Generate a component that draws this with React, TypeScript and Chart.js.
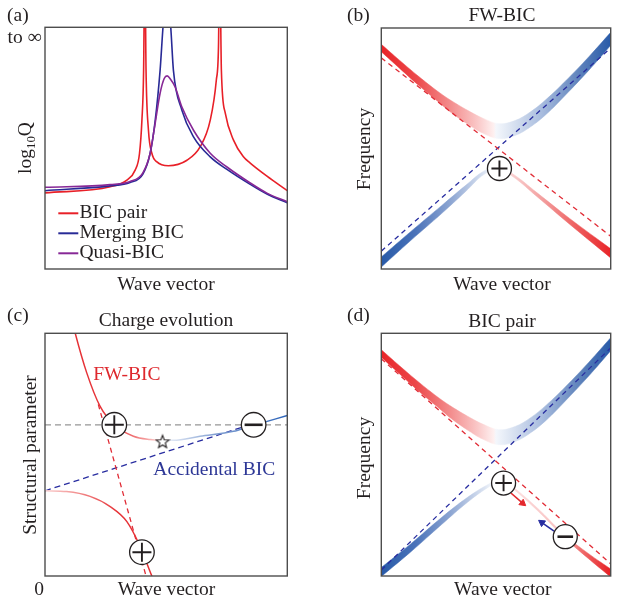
import React, { useEffect, useRef } from "react";
import { Chart, registerables } from "chart.js";

Chart.register(...registerables);

type Pt = [number, number];

// ---------------- Panel (a): log10 Q vs wave vector ----------------
const legendLabels = ["BIC pair", "Merging BIC", "Quasi-BIC"];
const bicPairQ: Pt[] = [
  [0, 31.5], [26.9, 34.0], [33.8, 36.8], [37.2, 40.9], [39.0, 47.8], [40.0, 61.6], [40.7, 82.2],
  [41.2, 130], [41.7, 82.2], [42.7, 57.4], [44.1, 47.9], [46.2, 44.3], [50.9, 42.7], [58.6, 45.0],
  [64.0, 50.5], [68.2, 61.6], [70.7, 78.1], [71.6, 92], [72.1, 130], [72.8, 82], [74.4, 64.5],
  [77.8, 53.3], [81.9, 46.4], [84.7, 43.8], [91.6, 38.4], [100, 32.4],
];
const mergingBicQ: Pt[] = [
  [0, 32.4], [26.9, 34.4], [35.1, 35.8], [40.4, 39.3], [43.4, 47.9], [45.5, 61.6], [47.5, 82.2],
  [48.7, 100], [50.3, 118], [51.9, 100], [53.0, 82.2], [56.5, 65.7], [61.3, 54.7], [68.2, 46.4],
  [75.1, 41.2], [84.7, 35.0], [91.6, 31.0], [100, 27.4],
];
const quasiBicQ: Pt[] = [
  [0, 33.8], [26.9, 34.9], [35.1, 36.2], [40.4, 39.8], [43.4, 47.9], [45.5, 60.5], [47.5, 72.7],
  [49.2, 78.8], [50.4, 79.9], [51.8, 78.5], [53.7, 75.3], [56.5, 67.0], [61.3, 57.4], [68.2, 47.9],
  [75.1, 42.2], [84.7, 35.6], [91.6, 31.4], [100, 27.8],
];

// ---------------- Panels (b) and (d): frequency bands ----------------
const upperBandX = [0, 7.9, 16.1, 24.4, 30.6, 38.8, 44.2, 51.2, 58.3, 64.9, 71.9, 80.2, 90.5, 100];
const upperBandTop = [93.25, 86.65, 80.05, 73.85, 69.8, 65.2, 62.6, 60.3, 61.6, 65.1, 70.4, 77.9, 88.1, 98.2];
const upperBandBottom = [90.15, 83.35, 76.35, 69.75, 64.8, 59.4, 56.4, 54.1, 55.4, 58.9, 64.2, 72.1, 82.5, 92.8];

const lowerBandXB = [0, 12.8, 26.4, 36.8, 45.0, 51.2, 57.4, 67.8, 82.2, 100];
const lowerBandTopB = [5.0, 15.5, 26.4, 34.7, 40.8, 42.3, 39.4, 31.7, 20.9, 8.4];
const lowerBandBottomB = [0.8, 11.8, 23.1, 32.2, 39.4, 41.2, 38.3, 30.1, 18.5, 4.6];

const lowerBandXD = [0, 12.8, 26.4, 37.6, 46.7, 52.5, 57.4, 67.8, 80.2, 90.5, 100];
const lowerBandTopD = [3.5, 13.2, 24.2, 32.4, 37.8, 40.2, 36.8, 28.2, 16.7, 9.1, 2.9];
const lowerBandBottomD = [-0.2, 9.9, 21.3, 30.4, 36.6, 39.1, 36.0, 27.2, 15.5, 7.0, -0.4];

const redAsymB: Pt[] = [[0, 87.6], [100, 13.6]];
const blueAsymB: Pt[] = [[0, 7.4], [100, 91.7]];
const chargePlusB: Pt[] = [[51.5, 41.7]];

const redAsymD: Pt[] = [[0, 89.5], [100, 5.0]];
const blueAsymD: Pt[] = [[0, 2.5], [100, 94.0]];
const chargePlusD: Pt[] = [[53.3, 38.3]];
const chargeMinusD: Pt[] = [[80.2, 16.2]];
const arrowRedD: Pt[] = [[56.5, 34.2], [61.6, 30.0]];
const arrowBlueD: Pt[] = [[75.3, 18.5], [70.0, 22.0]];

// ---------------- Panel (c): charge evolution ----------------
const fwBicCurve: Pt[] = [
  [11.5, 104], [12.4, 100.3], [17.2, 83.8], [22.7, 70.0], [28.9, 62.0], [36.5, 57.6], [43.4, 56.2],
  [47.5, 55.9], [53.0, 55.9], [64.0, 57.6], [77.8, 59.6], [84.7, 61.7], [100, 66.1],
];
const lowerFwCurve: Pt[] = [
  [0, 35.1], [8.9, 34.8], [18.6, 32.8], [26.9, 28.6], [33.8, 22.4], [39.3, 12.1], [44.1, 0], [45, -2],
];
const redDashC: Pt[] = [[22.0, 70.7], [41.7, 0]];
const accidentalDashC: Pt[] = [[0, 35.1], [82.0, 61.5]];
const levelC: Pt[] = [[0, 62.3], [100, 62.3]];
const chargePlusC: Pt[] = [[28.6, 62.3], [40.0, 9.8]];
const chargeMinusC: Pt[] = [[86.1, 62.3]];
const starC: Pt[] = [[48.5, 55.5]];

// ---------------- helpers ----------------
const SERIF = '"Liberation Serif", "DejaVu Serif", serif';
const TXT = "#231f20";
const RED = "rgb(232,32,40)";
const RED_D = "rgb(225,45,55)";
const BLUE_D = "rgb(40,45,160)";

const xy = (a: Pt[]) => a.map(([x, y]) => ({ x, y }));
const zip = (xs: number[], ys: number[]) => xs.map((x, i) => ({ x, y: ys[i] }));

function gradient(stops: [number, string][]) {
  return (c: any) => {
    const ch = c.chart;
    const a = ch.chartArea;
    if (!a) return "rgba(0,0,0,0)";
    const g = ch.ctx.createLinearGradient(a.left, 0, a.right, 0);
    stops.forEach(([o, col]) => g.addColorStop(o, col));
    return g;
  };
}

const upperStops: [number, string][] = [
  [0, "rgb(232,36,40)"], [0.15, "rgb(236,72,74)"], [0.3, "rgb(243,140,140)"], [0.42, "rgb(250,200,200)"],
  [0.49, "rgb(254,240,240)"], [0.5, "rgb(244,247,252)"], [0.56, "rgb(222,230,243)"], [0.7, "rgb(168,188,222)"],
  [0.85, "rgb(100,135,190)"], [1, "rgb(40,90,168)"],
];
const lowerStopsB: [number, string][] = [
  [0, "rgb(40,90,168)"], [0.15, "rgb(75,115,185)"], [0.3, "rgb(140,165,210)"], [0.45, "rgb(220,228,242)"],
  [0.5, "rgb(255,255,255)"], [0.55, "rgb(250,215,215)"], [0.7, "rgb(243,160,160)"], [0.85, "rgb(238,95,95)"],
  [1, "rgb(232,36,40)"],
];
const lowerStopsD: [number, string][] = [
  [0, "rgb(40,90,168)"], [0.15, "rgb(75,115,185)"], [0.3, "rgb(140,165,210)"], [0.45, "rgb(220,228,242)"],
  [0.5, "rgb(255,255,255)"], [0.55, "rgb(252,225,225)"], [0.78, "rgb(248,192,192)"], [0.87, "rgb(240,110,110)"],
  [1, "rgb(230,30,35)"],
];
const fwStops: [number, string][] = [
  [0, "rgb(228,40,45)"], [0.3, "rgb(232,60,65)"], [0.42, "rgb(245,160,160)"], [0.48, "rgb(252,225,225)"],
  [0.52, "rgb(225,232,245)"], [0.7, "rgb(130,160,210)"], [1, "rgb(45,100,185)"],
];
const lowerFwStops: [number, string][] = [
  [0, "rgb(250,210,210)"], [0.12, "rgb(243,150,150)"], [0.3, "rgb(230,50,55)"], [1, "rgb(230,40,45)"],
];

type Txt = {
  t?: string;
  parts?: [string, boolean][];
  x: number;
  y: number;
  color?: string;
  align?: CanvasTextAlign;
  rot?: boolean;
  size?: number;
};
type Leg = { x0: number; x1: number; y: number; dy: number; tx: number };

function drawText(ctx: CanvasRenderingContext2D, s: Txt) {
  const size = s.size ?? 19.5;
  ctx.save();
  ctx.fillStyle = s.color ?? TXT;
  ctx.textBaseline = "alphabetic";
  ctx.translate(s.x, s.y);
  if (s.rot) ctx.rotate(-Math.PI / 2);
  if (s.parts) {
    const subSize = size * 0.66;
    let total = 0;
    s.parts.forEach(([t, sub]) => {
      ctx.font = `${sub ? subSize : size}px ${SERIF}`;
      total += ctx.measureText(t).width;
    });
    let x = -total / 2;
    ctx.textAlign = "left";
    s.parts.forEach(([t, sub]) => {
      ctx.font = `${sub ? subSize : size}px ${SERIF}`;
      ctx.fillText(t, x, sub ? 4 : 0);
      x += ctx.measureText(t).width;
    });
  } else {
    ctx.font = `${size}px ${SERIF}`;
    ctx.textAlign = s.rot ? "center" : s.align ?? "left";
    ctx.fillText(s.t ?? "", 0, 0);
  }
  ctx.restore();
}

function overlay(texts: Txt[], legend?: Leg) {
  return {
    id: "overlay",
    afterDatasetsDraw(chart: any) {
      const { ctx, chartArea: a } = chart;
      ctx.save();
      ctx.strokeStyle = "#4d4d4d";
      ctx.lineWidth = 1.4;
      ctx.strokeRect(a.left, a.top, a.right - a.left, a.bottom - a.top);
      ctx.restore();
    },
    afterDraw(chart: any) {
      const ctx = chart.ctx as CanvasRenderingContext2D;
      if (legend) {
        let k = 0;
        chart.data.datasets.forEach((ds: any) => {
          if (!ds.label) return;
          const y = legend.y + k * legend.dy;
          ctx.save();
          ctx.strokeStyle = ds.borderColor;
          ctx.lineWidth = 2;
          ctx.beginPath();
          ctx.moveTo(legend.x0, y);
          ctx.lineTo(legend.x1, y);
          ctx.stroke();
          ctx.restore();
          drawText(ctx, { t: ds.label, x: legend.tx, y: y + 4.8 });
          k++;
        });
      }
      texts.forEach((s) => drawText(ctx, s));
    },
  };
}

function baseOptions(pad: { left: number; top: number; right: number; bottom: number }) {
  return {
    responsive: false,
    animation: false as const,
    events: [] as any[],
    layout: { padding: pad },
    plugins: { legend: { display: false }, tooltip: { enabled: false } },
    scales: {
      x: { type: "linear" as const, min: 0, max: 100, display: false },
      y: { type: "linear" as const, min: 0, max: 100, display: false },
    },
    elements: { point: { radius: 0 }, line: { tension: 0 } },
  };
}

function curve(data: any[], color: any, width: number, order: number, extra: any = {}) {
  return {
    data,
    borderColor: color,
    backgroundColor: color,
    borderWidth: width,
    pointRadius: 0,
    fill: false,
    clip: 0,
    cubicInterpolationMode: "monotone",
    order,
    ...extra,
  };
}

function dashed(data: Pt[], color: string, dash: number[], order: number, width = 1.3) {
  return curve(xy(data), color, width, order, { borderDash: dash, cubicInterpolationMode: "default" });
}

function band(xs: number[], top: number[], bottom: number[], stops: [number, string][], order: number) {
  const g = gradient(stops);
  const smooth = { cubicInterpolationMode: "default", tension: 0.4 };
  return [
    curve(zip(xs, top), g, 0.5, order, smooth),
    { ...curve(zip(xs, bottom), g, 0.5, order, smooth), fill: "-1", backgroundColor: g },
  ];
}

function markers(data: Pt[], style: any, radius: number, border: number, order: number, extra: any = {}) {
  return {
    data: xy(data),
    showLine: false,
    pointStyle: style,
    pointRadius: radius,
    pointBorderWidth: border,
    pointBorderColor: "#231f20",
    pointBackgroundColor: "#ffffff",
    clip: false,
    order,
    ...extra,
  };
}

function chargeCircles(plus: Pt[], minus: Pt[], r: number, arm: number) {
  const out: any[] = [];
  if (plus.length) {
    out.push(markers(plus, "cross", arm, 1.9, 0));
    out.push(markers(plus, "circle", r, 1.3, 1));
  }
  if (minus.length) {
    out.push(markers(minus, "line", arm - 0.5, 2.6, 0));
    out.push(markers(minus, "circle", r, 1.3, 1));
  }
  return out;
}

function arrow(data: Pt[], color: string, rotation: number) {
  return {
    data: xy(data),
    borderColor: color,
    borderWidth: 1.6,
    pointRadius: [0, 4],
    pointStyle: "triangle",
    pointRotation: rotation,
    pointBackgroundColor: color,
    pointBorderColor: color,
    pointBorderWidth: 1,
    clip: false,
    order: 2,
  };
}

function starCanvas() {
  const c = document.createElement("canvas");
  c.width = 16;
  c.height = 16;
  const g = c.getContext("2d") as CanvasRenderingContext2D;
  g.beginPath();
  for (let i = 0; i < 10; i++) {
    const r = i % 2 === 0 ? 6.8 : 2.9;
    const a = -Math.PI / 2 + (i * Math.PI) / 5;
    g.lineTo(8 + r * Math.cos(a), 8.8 + r * Math.sin(a));
  }
  g.closePath();
  g.fillStyle = "#fff";
  g.fill();
  g.strokeStyle = "#231f20";
  g.lineWidth = 1.1;
  g.stroke();
  return c;
}

// ---------------- charts ----------------
function chartA(cv: HTMLCanvasElement) {
  const colors = [RED, "rgb(40,42,150)", "rgb(135,40,150)"];
  const series = [bicPairQ, mergingBicQ, quasiBicQ];
  return new Chart(cv, {
    type: "line",
    data: {
      datasets: series.map((s, i) => ({
        ...curve(xy(s), colors[i], 1.6, 3 - i),
        label: legendLabels[i],
      })) as any,
    },
    options: baseOptions({ left: 45, top: 27.3, right: 336.7, bottom: 335 }) as any,
    plugins: [
      overlay(
        [
          { t: "(a)", x: 7, y: 20.5 },
          { t: "to \u221e", x: 7.5, y: 43 },
          { parts: [["log", false], ["10", true], ["Q", false]], x: 30.5, y: 148, rot: true },
          { t: "Wave vector", x: 166, y: 290, align: "center" },
        ],
        { x0: 58.3, x1: 78.3, y: 213.3, dy: 20, tx: 79.5 }
      ),
    ],
  });
}

function chartB(cv: HTMLCanvasElement) {
  return new Chart(cv, {
    type: "line",
    data: {
      datasets: [
        ...chargeCircles(chargePlusB, [], 12, 8),
        ...band(upperBandX, upperBandTop, upperBandBottom, upperStops, 5),
        ...band(lowerBandXB, lowerBandTopB, lowerBandBottomB, lowerStopsB, 5),
        dashed(redAsymB, RED_D, [5, 4], 3),
        dashed(blueAsymB, BLUE_D, [5, 4], 3),
      ] as any,
    },
    options: baseOptions({ left: 381.3, top: 28, right: 1, bottom: 335 }) as any,
    plugins: [
      overlay([
        { t: "(b)", x: 347, y: 20.5 },
        { t: "FW-BIC", x: 502, y: 20.5, align: "center" },
        { t: "Frequency", x: 369.5, y: 149, rot: true },
        { t: "Wave vector", x: 502, y: 290, align: "center" },
      ]),
    ],
  });
}

function chartC(cv: HTMLCanvasElement) {
  return new Chart(cv, {
    type: "line",
    data: {
      datasets: [
        ...chargeCircles(chargePlusC, chargeMinusC, 12.3, 9.5),
        markers(starC, starCanvas(), 8, 0, 1),
        curve(xy(fwBicCurve), gradient(fwStops), 1.5, 4),
        curve(xy(lowerFwCurve), gradient(lowerFwStops), 1.5, 4),
        dashed(redDashC, RED_D, [5, 4], 5),
        dashed(accidentalDashC, BLUE_D, [6, 4], 5),
        dashed(levelC, "rgb(150,150,150)", [6, 4], 6, 1.2),
      ] as any,
    },
    options: baseOptions({ left: 45, top: 333.3, right: 336.7, bottom: 28 }) as any,
    plugins: [
      overlay([
        { t: "(c)", x: 7, y: 321 },
        { t: "Charge evolution", x: 166, y: 325.5, align: "center" },
        { t: "Structural parameter", x: 35.5, y: 455, rot: true },
        { t: "0", x: 39, y: 594.5, align: "center" },
        { t: "Wave vector", x: 166.4, y: 594.5, align: "center" },
        { t: "FW-BIC", x: 93.3, y: 379.6, color: "rgb(222,40,45)" },
        { t: "Accidental BIC", x: 153.3, y: 474.6, color: "rgb(45,55,150)" },
      ]),
    ],
  });
}

function chartD(cv: HTMLCanvasElement) {
  return new Chart(cv, {
    type: "line",
    data: {
      datasets: [
        ...chargeCircles(chargePlusD, chargeMinusD, 12, 8.3),
        arrow(arrowRedD, "rgb(228,40,45)", 129),
        arrow(arrowBlueD, "rgb(40,45,160)", -55),
        ...band(upperBandX, upperBandTop, upperBandBottom, upperStops, 5),
        ...band(lowerBandXD, lowerBandTopD, lowerBandBottomD, lowerStopsD, 5),
        dashed(redAsymD, RED_D, [5, 4], 3),
        dashed(blueAsymD, BLUE_D, [5, 4], 3),
      ] as any,
    },
    options: baseOptions({ left: 381.3, top: 333.3, right: 1, bottom: 28 }) as any,
    plugins: [
      overlay([
        { t: "(d)", x: 347, y: 321 },
        { t: "BIC pair", x: 502, y: 327, align: "center" },
        { t: "Frequency", x: 369.5, y: 458, rot: true },
        { t: "Wave vector", x: 502.8, y: 594.5, align: "center" },
      ]),
    ],
  });
}

export default function App() {
  const r0 = useRef<HTMLCanvasElement>(null);
  const r1 = useRef<HTMLCanvasElement>(null);
  const r2 = useRef<HTMLCanvasElement>(null);
  const r3 = useRef<HTMLCanvasElement>(null);

  useEffect(() => {
    const charts = [
      chartA(r0.current as HTMLCanvasElement),
      chartB(r1.current as HTMLCanvasElement),
      chartC(r2.current as HTMLCanvasElement),
      chartD(r3.current as HTMLCanvasElement),
    ];
    return () => charts.forEach((c) => c.destroy());
  }, []);

  const cs: React.CSSProperties = { position: "absolute", left: 0, top: 0, width: 624, height: 604 };
  return (
    <div style={{ position: "absolute", left: 0, top: 0, width: 624, height: 604, background: "#fff", overflow: "hidden" }}>
      <canvas ref={r0} width={624} height={604} style={cs} />
      <canvas ref={r1} width={624} height={604} style={cs} />
      <canvas ref={r2} width={624} height={604} style={cs} />
      <canvas ref={r3} width={624} height={604} style={cs} />
    </div>
  );
}
